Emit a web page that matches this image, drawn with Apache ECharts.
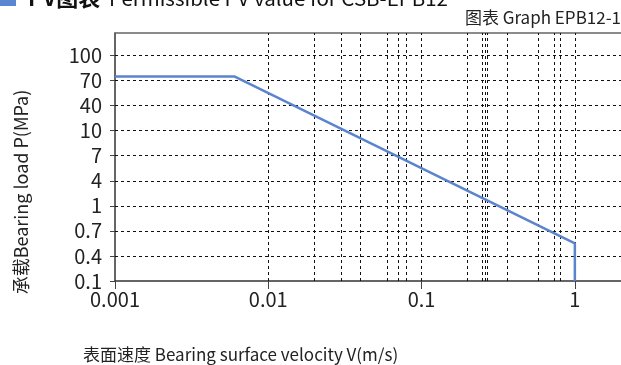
<!DOCTYPE html>
<html>
<head>
<meta charset="utf-8">
<script src="https://cdn.jsdelivr.net/npm/echarts@6/dist/echarts.min.js"></script>
<style>
html,body{margin:0;padding:0;background:#fff;}
#c{width:621px;height:365px;}
</style>
</head>
<body>
<div id="c"></div>
<script>
// ---- data ----
const velocity = [0.001, 0.006, 1, 1];          // V (m/s)
const load = [75, 75, 0.55, 0.1];                // P (MPa)
const yTickLabels = [0.1, 0.4, 0.7, 1, 4, 7, 10, 40, 70, 100];
const xTickLabels = [0.001, 0.01, 0.1, 1];
const gridDecades = [0.01, 0.1];
const gridMultipliers = [2, 2.52, 2.61, 2.7, 3.65, 5.8, 7.35, 8];
const decadeLines = [0.01, 0.1, 1];

const titleMain = 'PV图表';
const titleRest = 'Permissible PV value for CSB-EPB12';
const graphId = '图表 Graph EPB12-1';
const yName = '承载Bearing load P(MPa)';
const xName = '表面速度 Bearing surface velocity V(m/s)';

// ---- build ----
function toIdx(p) {
  for (let i = 0; i < yTickLabels.length - 1; i++) {
    const a = yTickLabels[i], b = yTickLabels[i + 1];
    if (p >= a && p <= b) return i + (p - a) / (b - a);
  }
  return p < yTickLabels[0] ? 0 : yTickLabels.length - 1;
}
const lineData = velocity.map((v, i) => [v, toIdx(load[i])]);
const vLines = [];
gridDecades.forEach(d => gridMultipliers.forEach(m => vLines.push(+(d * m).toPrecision(4))));
decadeLines.forEach(v => vLines.push(v));
const yIdx = yTickLabels.map((_, i) => i);
const gridMarks = vLines.map(v => ({ xAxis: v }))
  .concat(yIdx.slice(1).map(i => ({ yAxis: i })));

const FONT = '"Noto Sans CJK SC", "Noto Sans", sans-serif';
const chart = echarts.init(document.getElementById('c'), null, { renderer: 'canvas' });
chart.setOption({
  animation: false,
  backgroundColor: '#fff',
  textStyle: { fontFamily: FONT },
  grid: { left: 115, right: 0, top: 33, bottom: 84, containLabel: false },
  xAxis: [{
    type: 'log', logBase: 10, min: 0.001, max: 2,
    axisLine: { show: true, lineStyle: { color: '#333', width: 1.5 } },
    axisTick: { show: true, length: 8, customValues: xTickLabels, lineStyle: { color: '#444', width: 1 } },
    axisLabel: { customValues: xTickLabels, fontSize: 20, margin: 8, color: '#222', fontFamily: FONT,
      formatter: v => (xTickLabels.some(t => Math.abs(t - v) / t < 1e-6) ? String(v) : '') },
    splitLine: { show: false }, minorTick: { show: false }
  }, {
    type: 'log', logBase: 10, min: 0.001, max: 2, position: 'top',
    axisLine: { show: true, lineStyle: { color: '#666', width: 1.5 } },
    axisTick: { show: false }, axisLabel: { show: false }, splitLine: { show: false }
  }],
  yAxis: {
    type: 'value', min: 0, max: 9.9,
    axisLine: { show: true, lineStyle: { color: '#333', width: 1.5 } },
    axisTick: { show: true, length: 5, customValues: yIdx, lineStyle: { color: '#444', width: 1 } },
    axisLabel: { customValues: yIdx, fontSize: 20, margin: 13, color: '#222', fontFamily: FONT,
      formatter: v => { const i = Math.round(v); return Math.abs(v - i) < 1e-6 && yTickLabels[i] != null ? String(yTickLabels[i]) : ''; } },
    splitLine: { show: false }
  },
  series: [{
    type: 'line', data: [], z: 1, silent: true,
    markLine: {
      silent: true, symbol: ['none', 'none'], label: { show: false },
      lineStyle: { color: '#111', width: 1, type: [3, 3] },
      emphasis: { disabled: true },
      data: gridMarks
    }
  }, {
    type: 'line', data: lineData, z: 5, symbol: 'none', silent: true,
    lineStyle: { color: '#5b84cf', width: 2.5 }
  }],
  graphic: [
    { type: 'rect', left: 0, top: 0, shape: { width: 16, height: 6 }, style: { fill: '#5a86d2' } },
    { type: 'text', x: 28, y: -2, style: { text: titleMain, fontSize: 22, fontWeight: 'bold', fill: '#111', fontFamily: FONT, verticalAlign: 'middle' } },
    { type: 'text', x: 109, y: -2, style: { text: titleRest, fontSize: 20.5, fill: '#111', fontFamily: FONT, verticalAlign: 'middle' } },
    { type: 'text', x: 621, y: 18, style: { text: graphId, fontSize: 17, fill: '#222', fontFamily: FONT, align: 'right', verticalAlign: 'middle' } },
    { type: 'text', x: 21, y: 192, rotation: Math.PI / 2, style: { text: yName, fontSize: 18, fill: '#222', fontFamily: FONT, align: 'center', verticalAlign: 'middle' } },
    { type: 'text', x: 83, y: 355, style: { text: xName, fontSize: 17, fill: '#222', fontFamily: FONT, align: 'left', verticalAlign: 'middle' } }
  ]
});
</script>
</body>
</html>
